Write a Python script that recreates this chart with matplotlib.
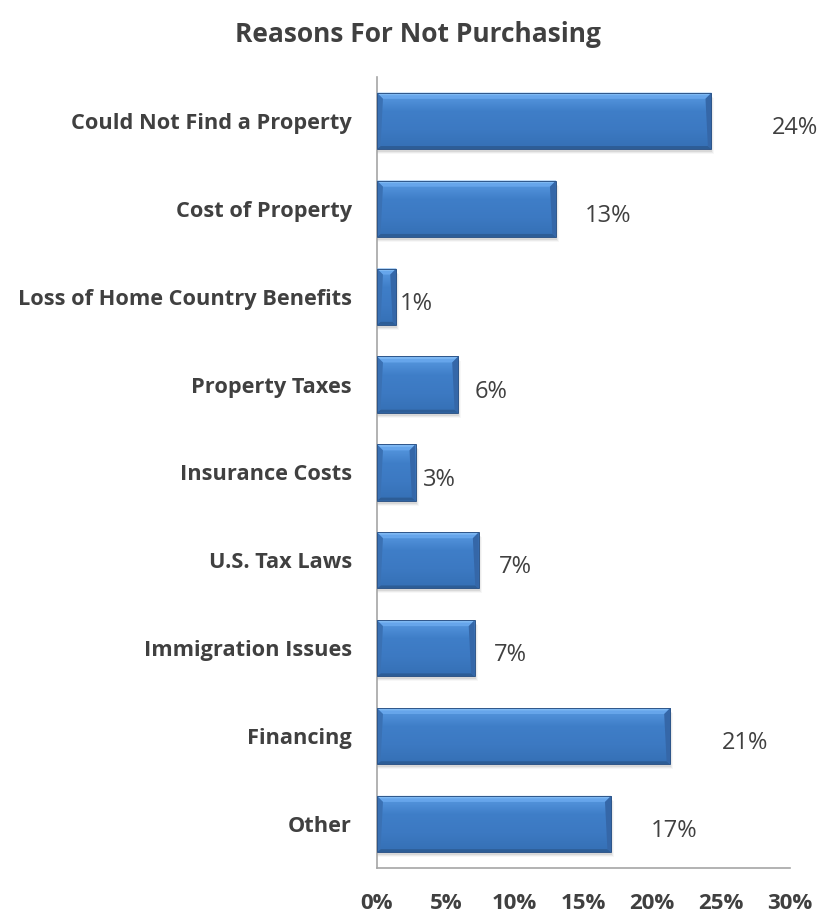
import numpy as np
import matplotlib
matplotlib.use("Agg")
import matplotlib.pyplot as plt
from matplotlib.patches import Polygon, Rectangle
from matplotlib.colors import LinearSegmentedColormap

# Survey responses, top to bottom
reasons = [
    "Could Not Find a Property",
    "Cost of Property",
    "Loss of Home Country Benefits",
    "Property Taxes",
    "Insurance Costs",
    "U.S. Tax Laws",
    "Immigration Issues",
    "Financing",
    "Other",
]
shares = [24.3, 13.0, 1.4, 5.9, 2.8, 7.4, 7.1, 21.3, 17.0]
x_ticks = [0, 5, 10, 15, 20, 25, 30]

FONT = "Open Sans"
TEXT = "#404040"

fig = plt.figure(figsize=(8.17, 9.13), dpi=100)
ax = fig.add_axes([0.4614, 0.0493, 0.5055, 0.8664])

ypos = np.arange(len(reasons))
bar_h = 0.64
ax.set_xlim(0, 30)
ax.set_ylim(len(reasons) - 0.5, -0.5)

# pixel -> data conversion for the bevel geometry
ax_w_px = 0.5055 * 817
ax_h_px = 0.8664 * 913
px_x = 30 / ax_w_px
px_y = len(reasons) / ax_h_px

grad = LinearSegmentedColormap.from_list(
    "bar", ["#5a9be3", "#3f7ec8", "#3c79c2", "#3570b5"])
shade = np.linspace(0, 1, 64).reshape(-1, 1)

for y, v in zip(ypos, shares):
    top = y - bar_h / 2
    bot = y + bar_h / 2
    # soft drop shadow
    for k, a in enumerate([0.08, 0.05, 0.03]):
        ax.add_patch(Rectangle((0, top + (3 + k) * px_y), v + (1 + k) * px_x,
                               bar_h, color="#000000", alpha=a, lw=0, zorder=1))
    rect = Rectangle((0, top), v, bar_h, facecolor="#3f7ec8",
                     edgecolor="none", zorder=2)
    ax.add_patch(rect)
    im = ax.imshow(shade, cmap=grad, aspect="auto",
                   extent=(0, v, bot, top), zorder=3, origin="upper")
    im.set_clip_path(rect)
    bx = min(6 * px_x, v / 2)
    by = 6 * px_y
    # bevel faces: light top, dark bottom, shaded ends
    ax.add_patch(Polygon([(0, top), (v, top), (v - bx, top + by), (bx, top + by)],
                         facecolor="#6aa9ee", edgecolor="none", alpha=0.85, zorder=4))
    ax.add_patch(Polygon([(0, top), (v, top), (v - bx * 0.5, top + by * 0.4), (bx * 0.5, top + by * 0.4)],
                         facecolor="#85bdf5", edgecolor="none", alpha=0.8, zorder=4))
    ax.add_patch(Polygon([(0, bot), (v, bot), (v - bx * 0.6, bot - by * 0.5), (bx * 0.6, bot - by * 0.5)],
                         facecolor="#2d5d96", edgecolor="none", zorder=4))
    ax.add_patch(Polygon([(v, top), (v, bot), (v - bx * 0.6, bot - by * 0.5), (v - bx, top + by)],
                         facecolor="#3567a8", edgecolor="none", zorder=4))
    ax.add_patch(Polygon([(0, top), (0, bot), (bx * 0.6, bot - by * 0.5), (bx, top + by)],
                         facecolor="#3a71b4", edgecolor="none", zorder=4))
    ax.add_patch(Rectangle((0, top), v, bar_h, facecolor="none",
                           edgecolor="#2f5689", lw=0.7, zorder=5))
    ax.text(v * 1.2 + 1.2, y + 0.08, f"{v:.0f}%", ha="center", va="center",
            fontsize=17, color=TEXT, family=FONT, zorder=6)

ax.set_yticks(ypos)
ax.set_yticklabels(reasons, fontsize=15.7, fontweight="bold", color=TEXT,
                   family=FONT)
ax.set_xticks(x_ticks)
ax.set_xticklabels([f"{t}%" for t in x_ticks], fontsize=16,
                   fontweight="bold", color=TEXT, family=FONT)
ax.tick_params(axis="both", length=0)
ax.tick_params(axis="y", pad=18)
ax.tick_params(axis="x", pad=18)

for side in ["top", "right"]:
    ax.spines[side].set_visible(False)
for side in ["left", "bottom"]:
    ax.spines[side].set_color("#a6a6a6")
    ax.spines[side].set_linewidth(1.2)

fig.text(0.512, 0.962, "Reasons For Not Purchasing", ha="center", va="center",
         fontsize=19, fontweight="bold", color=TEXT, family=FONT)

fig.savefig("out.png", dpi=100, facecolor="white")
